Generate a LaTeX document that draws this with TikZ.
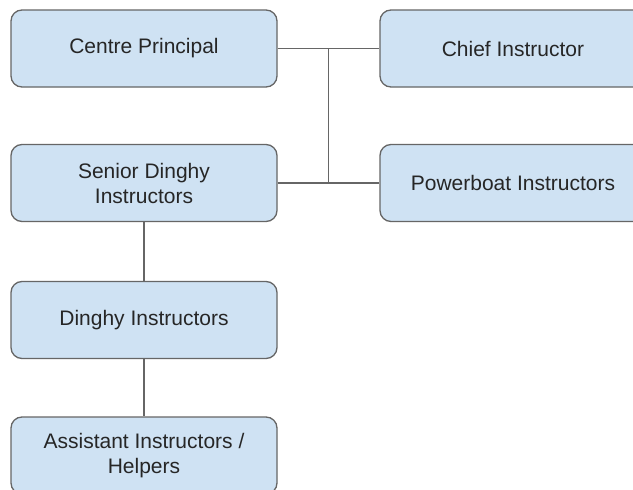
\documentclass[tikz,border=0pt]{standalone}
\usepackage{fontspec}
\setmainfont{Liberation Sans}
\usepackage{xcolor}
\usepackage{tikz}
\usetikzlibrary{calc}
\definecolor{boxblue}{HTML}{CFE2F3}
\definecolor{edgegray}{HTML}{666666}
\definecolor{textgray}{HTML}{262626}
\tikzstyle{box} = [
    draw=edgegray,
    line width=1.3pt,
    fill=boxblue,
    rounded corners=11pt,
    minimum width=266pt,
    minimum height=77pt,
    inner sep=0pt,
    align=center,
    text=textgray,
    font=\fontsize{21}{25}\selectfont
]
\tikzstyle{link} = [
    draw=edgegray,
    line width=1.3pt
]

\begin{document}
\begin{tikzpicture}[x=1pt,y=-1pt]

\useasboundingbox[fill=white] (0,0) rectangle (633,490);

\node[box] (cp) at (144,48.5) {Centre Principal};

\node[box] (ci) at (513,48.5) {Chief Instructor};

\node[box] (sdi) at (144,183) {Senior Dinghy\\Instructors};

\node[box] (pi) at (513,183) {Powerboat Instructors};

\node[box] (di) at (144,320) {Dinghy Instructors};

\node[box] (ai) at (144,455.5) {Assistant Instructors /\\Helpers};

\coordinate (jtop) at ($(cp.east)!0.5!(ci.west)$);

\coordinate (jbot) at ($(sdi.east)!0.5!(pi.west)$);

\draw[link] (cp.east) -- (ci.west);

\draw[link] (sdi.east) -- (pi.west);

\draw[link] (jtop) -- (jbot);

\draw[link] (sdi.south) -- (di.north);

\draw[link] (di.south) -- (ai.north);

\end{tikzpicture}
\end{document}
